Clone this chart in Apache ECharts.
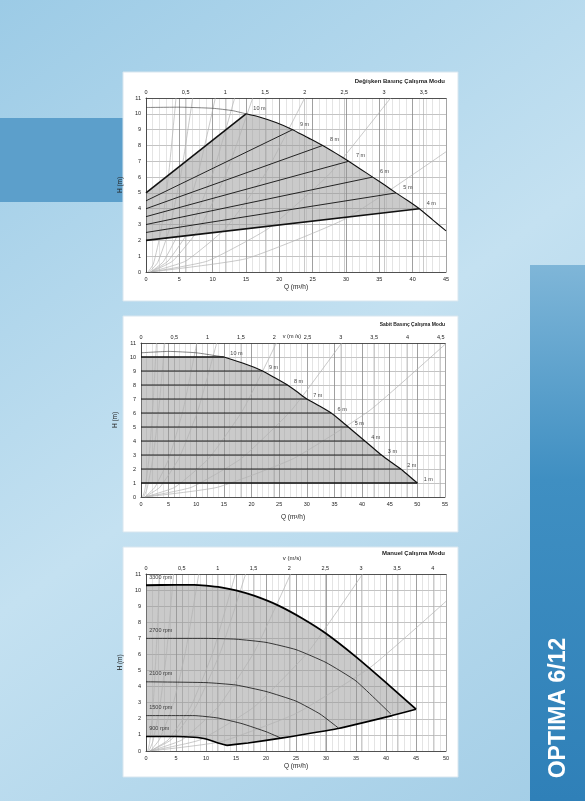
<!DOCTYPE html>
<html><head><meta charset="utf-8">
<script src="https://cdn.jsdelivr.net/npm/echarts@6/dist/echarts.min.js"></script>
<style>html,body{margin:0;padding:0}#c{width:585px;height:801px}</style>
</head><body><div id="c"></div>
<script>
// ---------- Panel 1: Değişken Basınç ----------
const p1Curve = [[0,10.4],[5,10.42],[10,10.35],[13,10.2],[15,10]];
const p1CurveBold = [[15,10],[17,9.8],[19.5,9.45],[22,9],[24,8.55],[26.5,8],[28.5,7.5],[30.4,7],[32.2,6.5],[34,6],[35.8,5.5],[37.5,5],[39.3,4.5],[41,4],[43,3.3],[45,2.6]];
const p1Lines = [
  {label:'10 m', from:[0,5], to:[15,10], bold:true},
  {label:'9 m', from:[0,4.5], to:[22,9]},
  {label:'8 m', from:[0,4], to:[26.5,8]},
  {label:'7 m', from:[0,3.5], to:[30.4,7]},
  {label:'6 m', from:[0,3], to:[34,6]},
  {label:'5 m', from:[0,2.5], to:[37.5,5]},
  {label:'4 m', from:[0,2], to:[41,4], bold:true}
];
const p1Fill = [[0,5],[15,10],[17,9.8],[19.5,9.45],[22,9],[24,8.55],[26.5,8],[28.5,7.5],[30.4,7],[32.2,6.5],[34,6],[35.8,5.5],[37.5,5],[39.3,4.5],[41,4],[0,2]];
const p1System = [
  [[0.3,0],[1.1,0.5],[2.25,2.6],[3.4,6.19],[4.5,11]],
  [[0.5,0],[1.75,0.6],[3.5,2.7],[5.25,6.19],[7,11]],
  [[0.7,0],[2.6,0.65],[5.2,2.75],[7.8,6.19],[10.4,11]],
  [[0.7,0],[3.3,0.69],[6.65,2.75],[10,6.19],[13.3,11]],
  [[0.7,0],[4,0.69],[8,2.75],[12,6.19],[16,11]],
  [[0.7,0],[5.95,0.69],[11.9,2.75],[17.85,6.19],[23.8,11]],
  [[0.7,0],[9.2,0.69],[18.35,2.75],[27.5,6.19],[36.7,11]],
  [[0.7,0],[15,0.84],[30,3.38],[45,7.6]]
];
// ---------- Panel 2: Sabit Basınç ----------
const p2Curve = [[0,10.3],[5,10.4],[10,10.3],[15,10]];
const p2CurveBold = [[15,10],[18.5,9.55],[22,9],[24.3,8.5],[26.5,8],[28.3,7.5],[30,7],[32.3,6.5],[34.4,6],[36,5.5],[37.5,5],[39,4.5],[40.5,4],[42,3.5],[43.5,3],[45.2,2.5],[47,2],[48.5,1.5],[50,1]];
const p2Levels = [10,9,8,7,6,5,4,3,2,1];
const p2LevelQ = [15,22,26.5,30,34.4,37.5,40.5,43.5,47,50];
const p2Labels = ['10 m','9 m','8 m','7 m','6 m','5 m','4 m','3 m','2 m','1 m'];
const p2System = [
  [[0.3,0],[0.7,0.5],[1.4,2.6],[2.1,6.19],[2.8,11]],
  [[0.5,0],[1.1,0.6],[2.15,2.75],[3.2,6.19],[4.3,11]],
  [[0.7,0],[2.5,0.69],[5.05,2.75],[7.6,6.19],[10.1,11]],
  [[0.7,0],[3.4,0.69],[6.85,2.75],[10.3,6.19],[13.7,11]],
  [[0.7,0],[6.1,0.69],[12.25,2.75],[18.4,6.19],[24.5,11]],
  [[0.7,0],[9.1,0.69],[18.15,2.75],[27.2,6.19],[36.3,11]],
  [[0.7,0],[13.8,0.69],[27.6,2.75],[41.4,6.19],[55,10.9]]
];
// ---------- Panel 3: Manuel ----------
const p3Max = [[0,10.3],[5,10.33],[8,10.33],[10,10.28],[12.5,10.17],[15,9.98],[18,9.65],[22,9.05],[26,8.25],[30,7.3],[35,5.85],[40,4.25],[45,2.6]];
const p3Bottom = [[45,2.6],[41,2.2],[32,1.4],[22.5,0.8],[17,0.5],[13.5,0.35],[12,0.5],[10,0.75],[7,0.85],[0,0.9]];
const p3Speeds = ['3300 rpm','2700 rpm','2100 rpm','1500 rpm','900 rpm'];
const p3SpeedH = [10.3,7,4.3,2.2,0.9];
const p3C2700 = [[0,7],[10,7],[15,6.95],[20,6.75],[25,6.3],[30,5.5],[35,4.35],[40.8,2.3]];
const p3C2100 = [[0,4.3],[10,4.25],[15,4.1],[20,3.7],[25,3.1],[29,2.3],[32,1.45]];
const p3C1500 = [[0,2.2],[8,2.2],[12,2.05],[16,1.7],[20,1.2],[22.5,0.8]];
const p3C900 = [[0,0.9],[5,0.9],[8,0.85],[10,0.75],[12,0.5],[13.5,0.35]];
const p3Bottom2 = [[13.5,0.35],[17,0.5],[22.5,0.8],[32,1.4],[41,2.2],[45,2.6]];
const p3System = [
  [[0.3,0],[0.6,0.5],[1.15,2.6],[1.7,6.19],[2.3,11]],
  [[0.5,0],[1.15,0.6],[2.3,2.75],[3.45,6.19],[4.6,11]],
  [[0.7,0],[2.2,0.69],[4.4,2.75],[6.6,6.19],[8.8,11]],
  [[0.7,0],[3.7,0.69],[7.45,2.75],[11.2,6.19],[14.9,11]],
  [[0.7,0],[4.15,0.69],[8.3,2.75],[12.45,6.19],[16.6,11]],
  [[0.7,0],[6,0.69],[12.05,2.75],[18.1,6.19],[24.1,11]],
  [[0.7,0],[9,0.69],[18.05,2.75],[27.1,6.19],[36.1,11]],
  [[0.7,0],[12.5,0.58],[25,2.33],[37.5,5.23],[50,9.3]]
];

const chart = echarts.init(document.getElementById('c'));
const F = 'Liberation Sans, Arial, sans-serif';
const grids = [
  {left:146, top:98, width:300, height:174},
  {left:141, top:343, width:304, height:154},
  {left:146, top:574, width:300, height:177}
];
const qMax = [45,55,50];
const vMax = [45/11.9, 55/12.05, 50/11.95];
const comma = v => String(Math.round(v*10)/10).replace('.',',');
const xAxes=[], yAxes=[];
grids.forEach((g,i)=>{
  xAxes.push({gridIndex:i, type:'value', min:0, max:qMax[i], interval:5, position:'bottom',
    name:'Q (m³/h)', nameLocation:'middle', nameGap: i===1?17:12, nameTextStyle:{fontSize:6.5,fontFamily:F,color:'#222'},
    axisLine:{lineStyle:{color:'#333',width:0.8}}, axisTick:{show:false},
    axisLabel:{fontSize:5.5, margin:4, color:'#222', fontFamily:F},
    splitLine:{lineStyle:{color:'#888',width:0.8}},
    minorTick:{show:false,splitNumber:5}, minorSplitLine:{show:true,lineStyle:{color:'#c8c8c8',width:0.5}}});
  xAxes.push({gridIndex:i, type:'value', min:0, max:vMax[i], interval:0.5, position:'top',
    axisLine:{lineStyle:{color:'#333',width:0.8}}, axisTick:{show:false},
    axisLabel:{fontSize:5.5, margin:3, color:'#222', fontFamily:F, formatter:comma, showMaxLabel:false},
    splitLine:{show:true,lineStyle:{color:'#a8a8a8',width:0.6}}});
  yAxes.push({gridIndex:i, type:'value', min:0, max:11, interval:1,
    name:'H (m)', nameLocation:'middle', nameGap:14, nameRotate:90, nameTextStyle:{fontSize:6.5,fontFamily:F,color:'#222'},
    axisLine:{show:true,lineStyle:{color:'#333',width:0.8}}, axisTick:{show:false},
    axisLabel:{fontSize:5.5, margin:5, color:'#222', fontFamily:F},
    splitLine:{lineStyle:{color:'#9a9a9a',width:0.6}}});
});
const series=[];
const line=(gi,data,w,col,smooth)=>series.push({type:'line',xAxisIndex:gi*2,yAxisIndex:gi,data,showSymbol:false,silent:true,
  smooth: smooth?0.15:false, lineStyle:{color:col||'#111',width:w}, z:5});
const fill=(gi,poly)=>series.push({type:'custom',xAxisIndex:gi*2,yAxisIndex:gi,data:[[0,0]],silent:true,z:1,
  renderItem:(p,api)=>({type:'polygon',shape:{points:poly.map(q=>api.coord(q))},style:{fill:'rgba(150,150,150,0.5)'}})});
const labels=(gi,data,pos)=>series.push({type:'scatter',xAxisIndex:gi*2,yAxisIndex:gi,data,symbolSize:0,silent:true,z:6,
  label:{show:true,position:pos||'right',formatter:p=>p.data[2],fontSize:5.5,color:'#111',fontFamily:F,distance:2}});
const SYS='#b2b2b2';
fill(0,p1Fill);
p1System.forEach(s=>line(0,s,0.7,SYS,true));
line(0,p1Curve,0.6,'#333',true);
line(0,p1CurveBold,1.1,'#111',true);
p1Lines.forEach(l=>line(0,[l.from,l.to],l.bold?1.6:0.9,'#111'));
labels(0,p1Lines.map(l=>[l.to[0]+0.8,l.to[1]+0.35,l.label]));

fill(1,[[0,10]].concat(p2CurveBold,[[0,1]]));
p2System.forEach(s=>line(1,s,0.7,SYS,true));
line(1,p2Curve,0.6,'#333',true);
line(1,p2CurveBold,1.2,'#111',true);
p2Levels.forEach((h,i)=>line(1,[[0,h],[p2LevelQ[i],h]],(i===0||i===9)?1.3:0.9,'#111'));
labels(1,p2Levels.map((h,i)=>[p2LevelQ[i]+0.8,h+0.25,p2Labels[i]]));

fill(2,p3Max.concat(p3Bottom));
p3System.forEach(s=>line(2,s,0.7,SYS,true));
line(2,p3Max,1.8,'#000',true);
line(2,p3C2700,0.8,'#111',true);
line(2,p3C2100,0.8,'#111',true);
line(2,p3C1500,0.8,'#111',true);
line(2,p3C900,1.6,'#000',true);
line(2,p3Bottom2,1.6,'#000',true);
labels(2,p3Speeds.map((s,i)=>[0.2,p3SpeedH[i]+0.5,s]),'right');

const panel=(x,y,w,h)=>({type:'rect',shape:{x,y,width:w,height:h},style:{fill:'#fff',stroke:'#d8e6ef',lineWidth:1},z:-10});
const txt=(x,y,t,align,size,bold)=>({type:'text',x,y,style:{text:t,fill:'#222',font:(bold?'bold ':'')+(size||6)+'px '+F,textAlign:align||'left',textVerticalAlign:'middle'},z:10});
chart.setOption({
  animation:false,
  backgroundColor:{type:'linear',x:0,y:0,x2:1,y2:1,colorStops:[{offset:0,color:'#9ccbe6'},{offset:0.5,color:'#c4e1f1'},{offset:1,color:'#a2cde6'}]},
  graphic:[
    {type:'rect',shape:{x:0,y:118,width:123,height:84},style:{fill:'#5c9fcb'},z:-20},
    {type:'rect',shape:{x:530,y:265,width:55,height:536},style:{fill:{type:'linear',x:0,y:0,x2:0,y2:1,colorStops:[{offset:0,color:'#7fb6d8'},{offset:0.4,color:'#3f8fc2'},{offset:1,color:'#2f80b8'}]}},z:-20},
    panel(123,72,335,229), panel(123,316,335,216), panel(123,547,335,230),
    txt(445,81,'Değişken Basınç Çalışma Modu','right',6,true),
    txt(445,325,'Sabit Basınç Çalışma Modu','right',5,true),
    txt(292,336,'v (m /s)','center',5.5),
    txt(445,553,'Manuel Çalışma Modu','right',6,true),
    txt(292,558,'v (m/s)','center',6),
    {type:'text',x:559,y:708,rotation:Math.PI/2,style:{text:'OPTIMA 6/12',fill:'#fff',font:'bold 23px '+F,textAlign:'center',textVerticalAlign:'middle'},z:10}
  ],
  grid:grids,
  xAxis:xAxes, yAxis:yAxes, series
});
</script></body></html>
